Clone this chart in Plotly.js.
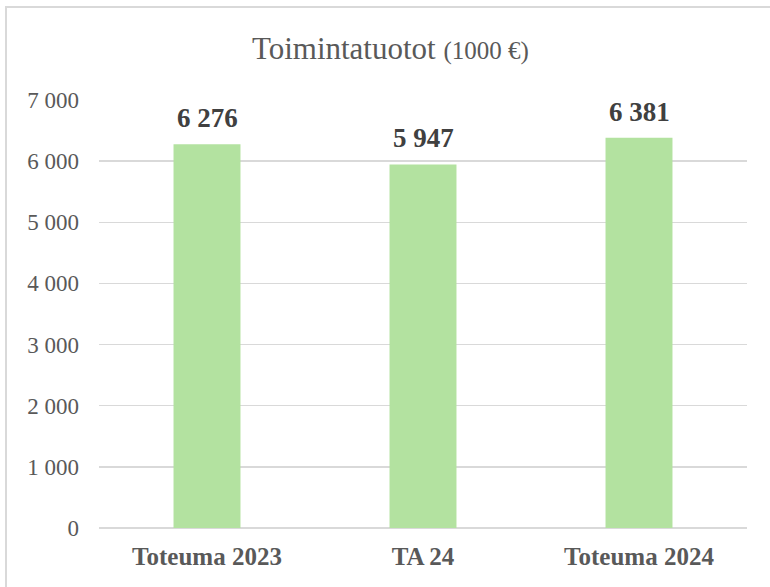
<!DOCTYPE html>
<html>
<head>
<meta charset="utf-8">
<script src="https://cdn.plot.ly/plotly-3.0.1.min.js"></script>
<style>html,body{margin:0;padding:0;background:#fff;}#chart{width:770px;height:587px;}</style>
</head>
<body>
<div id="chart"></div>
<script>
const categories = ["Toteuma 2023", "TA 24", "Toteuma 2024"];
const values = [6276, 5947, 6381];
const yTicks = [0, 1000, 2000, 3000, 4000, 5000, 6000, 7000];

const trace = {
  type: 'bar',
  x: categories,
  y: values,
  width: 0.31,
  marker: {color: '#b3e2a0'},
  cliponaxis: false,
  hoverinfo: 'none'
};

const fmt = v => {
  const s = String(v);
  return s.length > 3 ? s.slice(0, s.length - 3) + ' ' + s.slice(-3) : s;
};

const annotations = categories.map((c, i) => ({
  x: c, y: values[i], xref: 'x', yref: 'y',
  text: fmt(values[i]),
  showarrow: false, yanchor: 'bottom', xanchor: 'center', yshift: 9,
  font: {family: 'Liberation Serif', size: 27, color: '#404040', weight: 'bold'}
}));

const layout = {
  width: 770, height: 587,
  margin: {l: 99, r: 23, t: 100, b: 59},
  paper_bgcolor: '#fff', plot_bgcolor: '#fff',
  separators: ', ',
  showlegend: false,
  title: {
    text: 'Toimintatuotot <span style="font-size:25px">(1000 €)</span>',
    font: {family: 'Liberation Serif', size: 31, color: '#595959'},
    x: 0.507, xanchor: 'center', xref: 'container',
    y: 0.918, yanchor: 'middle', yref: 'container'
  },
  annotations: annotations,
  xaxis: {
    tickfont: {family: 'Liberation Serif', size: 25, color: '#595959', weight: 'bold'},
    showgrid: false, showline: false, zeroline: false, ticks: '',
    ticklabelstandoff: 11
  },
  yaxis: {
    range: [0, 7000],
    tickvals: yTicks,
    tickformat: ',',
    tickfont: {family: 'Liberation Serif', size: 23, color: '#595959'},
    gridcolor: '#d9d9d9', gridwidth: 1.5,
    zeroline: true, zerolinecolor: '#d9d9d9', zerolinewidth: 1.5,
    showline: false, ticks: '',
    ticklabelstandoff: 19
  },
  shapes: [{
    type: 'rect', xref: 'paper', yref: 'paper',
    x0: -93 / 648, x1: 1.2, y0: -0.3, y1: 1 + 93 / 428,
    line: {color: '#d9d9d9', width: 2}, fillcolor: 'rgba(0,0,0,0)', layer: 'below'
  }]
};

Plotly.newPlot('chart', [trace], layout, {staticPlot: true});
</script>
</body>
</html>
